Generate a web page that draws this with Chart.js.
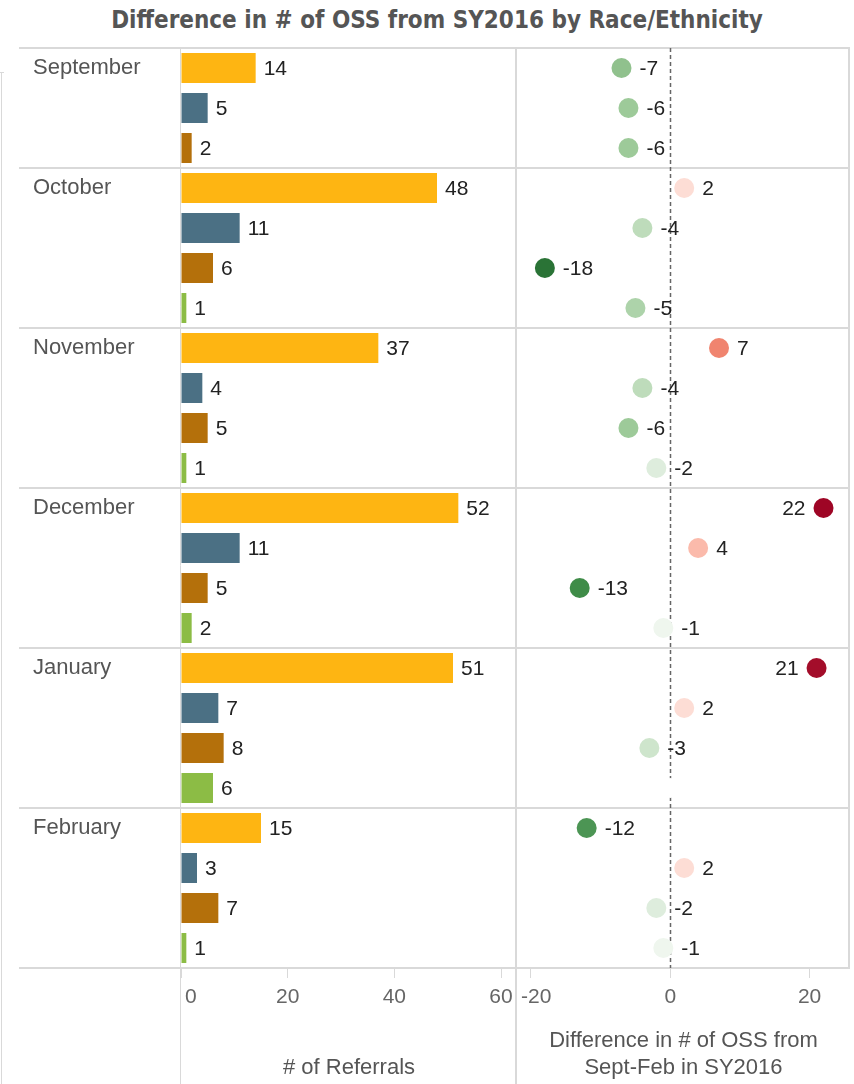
<!DOCTYPE html>
<html>
<head>
<meta charset="utf-8">
<script src="https://cdn.jsdelivr.net/npm/chart.js@4.4.1/dist/chart.umd.min.js"></script>
<style>
  body { margin: 0; background: #fff; }
  #page { position: relative; width: 854px; height: 1084px; overflow: hidden; }
  #title { position: absolute; left: 20px; top: 6px; width: 834px; line-height: 28px; text-align: center;
           font: bold 24px "DejaVu Sans Condensed", "DejaVu Sans", sans-serif; color: #555; }
  canvas { position: absolute; }
  #bars { left: 0; top: 40px; }
  #diffs { left: 497px; top: 40px; }
</style>
</head>
<body>
<div id="page">
  <div id="title">Difference in # of OSS from SY2016 by Race/Ethnicity</div>
  <canvas id="bars" width="517" height="1044"></canvas>
  <canvas id="diffs" width="357" height="1044"></canvas>
</div>
<script>
var months = ['September', 'October', 'November', 'December', 'January', 'February'];
var races = ['Group 1', 'Group 2', 'Group 3', 'Group 4'];

// # of referrals, one value per month
var referrals1 = [14, 48, 37, 52, 51, 15];
var referrals2 = [5, 11, 4, 11, 7, 3];
var referrals3 = [2, 6, 5, 5, 8, 7];
var referrals4 = [null, 1, 1, 2, 6, 1];

// difference in # of OSS from Sept-Feb in SY2016
var diff1 = [-7, 2, 7, 22, 21, -12];
var diff2 = [-6, -4, -4, 4, 2, 2];
var diff3 = [-6, -18, -6, -13, -3, -2];
var diff4 = [null, -5, -2, -1, 0, -1];

var barTicks = [0, 20, 40, 60];
var diffTicks = [-20, 0, 20];

var raceColors = ['#feb512', '#4b7084', '#b4700b', '#8cbc45'];
var greenStops = [[0, '#ffffff'], [6, '#9dca99'], [13, '#3f8c48'], [18, '#2a7336']];
var redStops = [[0, '#ffffff'], [4, '#fbbaab'], [7, '#f0846f'], [22, '#9e0525']];
var FONT = '"Liberation Sans", Arial, sans-serif';
var GRID = '#d9d9d9';

var referrals = [referrals1, referrals2, referrals3, referrals4];
var diffs = [diff1, diff2, diff3, diff4];

// one row per month / race pair
var slots = [], slotMonth = [], barValues = [], barColors = [], dots = [];
months.forEach(function (m, mi) {
    var first = true;
    races.forEach(function (r, ri) {
        if (referrals[ri][mi] == null) return;
        var key = m + ' / ' + r;
        slots.push(key);
        slotMonth.push(first ? m : '');
        first = false;
        barValues.push(referrals[ri][mi]);
        barColors.push(raceColors[ri]);
        dots.push({ x: diffs[ri][mi], y: key });
    });
});

function hexRgb(h) {
    return [1, 3, 5].map(function (i) { return parseInt(h.substr(i, 2), 16); });
}

function divColor(v) {
    var stops = v < 0 ? greenStops : redStops;
    var a = Math.abs(v);
    for (var i = 1; i < stops.length; i++) {
        if (a <= stops[i][0] || i === stops.length - 1) {
            var t = Math.min(1, (a - stops[i - 1][0]) / (stops[i][0] - stops[i - 1][0]));
            var c0 = hexRgb(stops[i - 1][1]), c1 = hexRgb(stops[i][1]);
            return 'rgb(' + c0.map(function (c, k) { return Math.round(c + (c1[k] - c) * t); }).join(',') + ')';
        }
    }
}

function noPadding(s) {
    s.paddingTop = 0;
    s.paddingBottom = 0;
    s.paddingLeft = 0;
    s.paddingRight = 0;
}

function monthLines(chart, x0, x1) {
    var ctx = chart.ctx, y = chart.scales.y, area = chart.chartArea;
    var ys = [area.top, area.bottom];
    slotMonth.forEach(function (m, i) {
        if (m && i > 0) ys.push((y.getPixelForValue(i - 1) + y.getPixelForValue(i)) / 2);
    });
    ctx.save();
    ctx.strokeStyle = GRID;
    ctx.lineWidth = 2;
    ys.forEach(function (yy) {
        ctx.beginPath();
        ctx.moveTo(x0, yy);
        ctx.lineTo(x1, yy);
        ctx.stroke();
    });
    ctx.restore();
}

function vLine(ctx, x, y0, y1, w) {
    ctx.save();
    ctx.strokeStyle = GRID;
    ctx.lineWidth = w;
    ctx.beginPath();
    ctx.moveTo(x, y0);
    ctx.lineTo(x, y1);
    ctx.stroke();
    ctx.restore();
}

// tick labels kept inside the pane, like the original tool does
function tickLabels(chart, ticks) {
    var ctx = chart.ctx, x = chart.scales.x, area = chart.chartArea;
    ctx.save();
    ctx.font = '21px ' + FONT;
    ctx.fillStyle = '#666';
    ctx.textBaseline = 'middle';
    ctx.textAlign = 'left';
    ticks.forEach(function (v) {
        var txt = String(v);
        var w = ctx.measureText(txt).width;
        var left = Math.max(x.getPixelForValue(v) - w / 2, area.left + 4);
        ctx.fillText(txt, left, area.bottom + 29);
    });
    ctx.restore();
}

function xAxis(ticks, min, max, title) {
    return {
        min: min,
        max: max,
        grid: { drawOnChartArea: false, drawTicks: true, tickLength: 10, color: GRID, lineWidth: 1 },
        border: { display: false },
        ticks: { display: false },
        afterBuildTicks: function (s) { s.ticks = ticks.map(function (v) { return { value: v }; }); },
        afterFit: function (s) { s.height = 116; noPadding(s); },
        title: {
            display: true, text: title, color: '#555',
            font: { family: FONT, size: 22, lineHeight: 27 / 22 },
            padding: { top: 0, bottom: 3 }
        }
    };
}

var barFrame = {
    id: 'barFrame',
    beforeDatasetsDraw: function (chart) {
        var ctx = chart.ctx, area = chart.chartArea;
        monthLines(chart, 19, chart.width);
        vLine(ctx, area.left - 0.5, area.top - 1, chart.height, 1);
        vLine(ctx, chart.width - 1, area.top - 1, chart.height, 2);
        // sheet border on the far left
        vLine(ctx, 1.5, 32, chart.height, 1);
        ctx.save();
        ctx.strokeStyle = GRID;
        ctx.beginPath();
        ctx.moveTo(0, 32.5);
        ctx.lineTo(4, 32.5);
        ctx.stroke();
        ctx.restore();
    },
    afterDatasetsDraw: function (chart) {
        var ctx = chart.ctx;
        ctx.save();
        ctx.font = '21px ' + FONT;
        ctx.fillStyle = '#222';
        ctx.textBaseline = 'middle';
        ctx.textAlign = 'left';
        chart.getDatasetMeta(0).data.forEach(function (bar, i) {
            ctx.fillText(String(barValues[i]), bar.x + 8, bar.y + 1);
        });
        ctx.restore();
        tickLabels(chart, barTicks);
    }
};

var diffFrame = {
    id: 'diffFrame',
    beforeDatasetsDraw: function (chart) {
        var ctx = chart.ctx, area = chart.chartArea;
        monthLines(chart, area.left, area.right);
        vLine(ctx, area.right - 1, area.top - 1, area.bottom + 1, 2);
        var x0 = Math.round(chart.scales.x.getPixelForValue(0)) + 0.5;
        ctx.save();
        ctx.strokeStyle = '#666';
        ctx.lineWidth = 1.5;
        ctx.setLineDash([4, 3]);
        ctx.beginPath();
        ctx.moveTo(x0, area.top);
        ctx.lineTo(x0, area.bottom);
        ctx.stroke();
        ctx.restore();
    },
    afterDatasetsDraw: function (chart) {
        var ctx = chart.ctx, area = chart.chartArea;
        ctx.save();
        ctx.font = '21px ' + FONT;
        ctx.fillStyle = '#222';
        ctx.textBaseline = 'middle';
        chart.getDatasetMeta(0).data.forEach(function (pt, i) {
            var v = dots[i].x;
            if (v === 0) return;
            var txt = String(v);
            var w = ctx.measureText(txt).width;
            if (pt.x + 18 + w > area.right) {
                ctx.textAlign = 'right';
                ctx.fillText(txt, pt.x - 18, pt.y + 1);
            } else {
                ctx.textAlign = 'left';
                ctx.fillText(txt, pt.x + 18, pt.y + 1);
            }
        });
        ctx.restore();
        tickLabels(chart, diffTicks);
    }
};

new Chart(document.getElementById('bars'), {
    type: 'bar',
    data: {
        labels: slots,
        datasets: [{
            data: barValues,
            backgroundColor: barColors,
            barPercentage: 0.75,
            categoryPercentage: 1
        }]
    },
    options: {
        indexAxis: 'y',
        responsive: false,
        animation: false,
        events: [],
        layout: { autoPadding: false, padding: { left: 33, top: 8, right: 0, bottom: 0 } },
        plugins: { legend: { display: false }, tooltip: { enabled: false } },
        scales: {
            y: {
                type: 'category',
                offset: true,
                grid: { display: false },
                border: { display: false },
                ticks: {
                    autoSkip: false,
                    crossAlign: 'far',
                    color: '#555',
                    font: { family: FONT, size: 22 },
                    callback: function (v, i) { return slotMonth[i]; }
                },
                afterFit: function (s) { s.width = 148; noPadding(s); }
            },
            x: xAxis(barTicks, 0, 63, '# of Referrals')
        }
    },
    plugins: [barFrame]
});

new Chart(document.getElementById('diffs'), {
    type: 'scatter',
    data: {
        datasets: [{
            data: dots,
            pointRadius: 10,
            pointHoverRadius: 10,
            pointBorderWidth: 0,
            pointBackgroundColor: function (c) { return c.raw ? divColor(c.raw.x) : '#fff'; }
        }]
    },
    options: {
        responsive: false,
        animation: false,
        events: [],
        layout: { autoPadding: false, padding: { left: 20, top: 8, right: 4, bottom: 0 } },
        plugins: { legend: { display: false }, tooltip: { enabled: false } },
        scales: {
            y: { type: 'category', labels: slots, offset: true, display: false },
            x: xAxis(diffTicks, -22, 25.8, ['Difference in # of OSS from', 'Sept-Feb in SY2016'])
        }
    },
    plugins: [diffFrame]
});
</script>
</body>
</html>
